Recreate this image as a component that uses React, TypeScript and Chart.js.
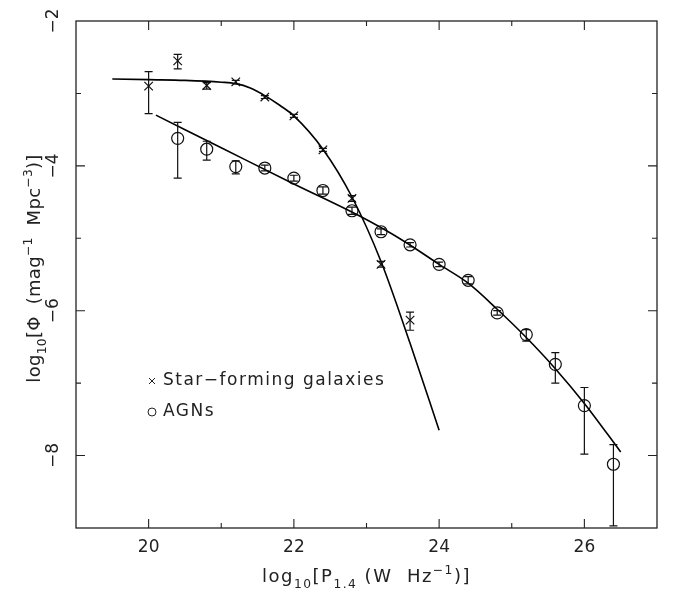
import React, { useEffect, useRef } from "react";
import { Chart, registerables } from "chart.js";

Chart.register(...registerables);

// Star-forming galaxies (crosses)
const sfX = [20.0, 20.4, 20.8, 21.2, 21.6, 22.0, 22.4, 22.8, 23.2, 23.6];
const sfY = [-2.9, -2.55, -2.89, -2.84, -3.05, -3.31, -3.78, -4.45, -5.36, -6.13];
const sfHi = [-2.7, -2.46, -2.85, -2.82, -3.03, -3.29, -3.76, -4.41, -5.32, -6.02];
const sfLo = [-3.28, -2.66, -2.94, -2.87, -3.07, -3.33, -3.8, -4.49, -5.4, -6.27];

// AGNs (circles)
const agnX = [20.4, 20.8, 21.2, 21.6, 22.0, 22.4, 22.8, 23.2, 23.6, 24.0, 24.4, 24.8, 25.2, 25.6, 26.0, 26.4];
const agnY = [-3.62, -3.77, -4.01, -4.03, -4.17, -4.34, -4.62, -4.91, -5.09, -5.36, -5.58, -6.03, -6.33, -6.74, -7.31, -8.12];
const agnHi = [-3.4, -3.66, -3.93, -3.99, -4.13, -4.29, -4.57, -4.87, -5.06, -5.33, -5.53, -6.0, -6.26, -6.58, -7.06, -7.85];
const agnLo = [-4.17, -3.92, -4.11, -4.07, -4.21, -4.39, -4.67, -4.95, -5.12, -5.39, -5.63, -6.06, -6.42, -7.0, -7.98, -8.97];

// Fitted curves
const sfFitX = [19.5, 20.0, 20.5, 21.0, 21.2, 21.4, 21.6, 21.8, 22.0, 22.4, 22.8, 23.2, 23.6, 24.0];
const sfFitY = [-2.8, -2.81, -2.82, -2.845, -2.865, -2.925, -3.03, -3.16, -3.31, -3.77, -4.43, -5.32, -6.45, -7.65];
const agnFitX = [20.1, 21.0, 22.0, 22.9, 23.5, 24.0, 24.4, 24.8, 25.2, 25.6, 26.0, 26.5];
const agnFitY = [-3.3, -3.75, -4.25, -4.69, -5.03, -5.36, -5.62, -5.98, -6.37, -6.8, -7.28, -7.95];

// Axes
const xMin = 19, xMax = 27;
const yMin = -9, yMax = -2;
const xTickLabels = [20, 22, 24, 26];
const yTickLabels = [-2, -4, -6, -8];
const legendLabels = ["Star\u2212forming galaxies", "AGNs"];

const FONT = '"DejaVu Sans", sans-serif';
const TEXT = "#222";

type Seg = { t: string; k?: "sub" | "sup" };

function drawRich(ctx: CanvasRenderingContext2D, segs: Seg[], cx: number, by: number, size: number, spacing: number) {
  (ctx as any).letterSpacing = `${spacing}px`;
  const parts = segs.map((s) => {
    const sz = s.k ? size * 0.68 : size;
    ctx.font = `${sz}px ${FONT}`;
    return { ...s, sz, w: ctx.measureText(s.t).width };
  });
  const total = parts.reduce((a, p) => a + p.w, 0);
  let x = cx - total / 2;
  ctx.textAlign = "left";
  ctx.textBaseline = "alphabetic";
  for (const p of parts) {
    ctx.font = `${p.sz}px ${FONT}`;
    const dy = p.k === "sub" ? size * 0.32 : p.k === "sup" ? -size * 0.45 : 0;
    ctx.fillText(p.t, x, by + dy);
    x += p.w;
  }
  (ctx as any).letterSpacing = "0px";
}

const framePlugin = {
  id: "framePlugin",
  afterDatasetsDraw(chart: any) {
    const ctx: CanvasRenderingContext2D = chart.ctx;
    const { left, right, top, bottom } = chart.chartArea;
    const xs = chart.scales.x;
    const ys = chart.scales.y;
    ctx.save();

    // error bars
    ctx.strokeStyle = "#111";
    ctx.lineWidth = 1.2;
    const cap = 4;
    const bars = (X: number[], H: number[], L: number[]) => {
      X.forEach((xv, i) => {
        const px = xs.getPixelForValue(xv);
        const ph = ys.getPixelForValue(H[i]);
        const pl = ys.getPixelForValue(L[i]);
        ctx.beginPath();
        ctx.moveTo(px, ph);
        ctx.lineTo(px, pl);
        ctx.moveTo(px - cap, ph);
        ctx.lineTo(px + cap, ph);
        ctx.moveTo(px - cap, pl);
        ctx.lineTo(px + cap, pl);
        ctx.stroke();
      });
    };
    bars(sfX, sfHi, sfLo);
    bars(agnX, agnHi, agnLo);

    // frame
    ctx.strokeStyle = "#222";
    ctx.lineWidth = 1.3;
    ctx.strokeRect(left, top, right - left, bottom - top);

    // ticks
    ctx.lineWidth = 1.1;
    ctx.beginPath();
    for (let v = xMin + 1; v < xMax; v++) {
      const len = v % 2 === 0 ? 9 : 5;
      const px = xs.getPixelForValue(v);
      ctx.moveTo(px, bottom);
      ctx.lineTo(px, bottom - len);
      ctx.moveTo(px, top);
      ctx.lineTo(px, top + len);
    }
    for (let v = yMin + 1; v < yMax; v++) {
      const len = Math.abs(v) % 2 === 0 ? 9 : 5;
      const py = ys.getPixelForValue(v);
      ctx.moveTo(left, py);
      ctx.lineTo(left + len, py);
      ctx.moveTo(right, py);
      ctx.lineTo(right - len, py);
    }
    ctx.stroke();

    // tick labels
    ctx.fillStyle = TEXT;
    ctx.font = `17px ${FONT}`;
    ctx.textAlign = "center";
    ctx.textBaseline = "top";
    xTickLabels.forEach((v) => {
      ctx.fillText(String(v), xs.getPixelForValue(v), bottom + 11);
    });
    yTickLabels.forEach((v) => {
      const py = ys.getPixelForValue(v);
      ctx.save();
      ctx.translate(left - 18, py);
      ctx.rotate(-Math.PI / 2);
      ctx.textAlign = "center";
      ctx.textBaseline = "alphabetic";
      ctx.fillText(String(v).replace("-", "\u2212"), 0, 0);
      ctx.restore();
    });

    // axis titles
    drawRich(
      ctx,
      [
        { t: "log" },
        { t: "10", k: "sub" },
        { t: "[P" },
        { t: "1.4", k: "sub" },
        { t: " (W  Hz" },
        { t: "\u22121", k: "sup" },
        { t: ")]" },
      ],
      (left + right) / 2,
      582,
      18,
      1.5
    );
    ctx.save();
    ctx.translate(40, (top + bottom) / 2 - 6);
    ctx.rotate(-Math.PI / 2);
    drawRich(
      ctx,
      [
        { t: "log" },
        { t: "10", k: "sub" },
        { t: "[\u03A6  (mag" },
        { t: "\u22121", k: "sup" },
        { t: "  Mpc" },
        { t: "\u22123", k: "sup" },
        { t: ")]" },
      ],
      0,
      0,
      18,
      0.3
    );
    ctx.restore();

    // legend
    ctx.strokeStyle = "#222";
    ctx.lineWidth = 1;
    const lx = 152;
    const ly1 = 381;
    const ly2 = 412;
    ctx.beginPath();
    ctx.moveTo(lx - 3, ly1 - 3);
    ctx.lineTo(lx + 3, ly1 + 3);
    ctx.moveTo(lx + 3, ly1 - 3);
    ctx.lineTo(lx - 3, ly1 + 3);
    ctx.stroke();
    ctx.beginPath();
    ctx.arc(lx, ly2, 4, 0, Math.PI * 2);
    ctx.stroke();
    ctx.font = `17px ${FONT}`;
    ctx.textAlign = "left";
    ctx.textBaseline = "middle";
    (ctx as any).letterSpacing = "1.5px";
    ctx.fillText(legendLabels[0], lx + 11, ly1);
    ctx.fillText(legendLabels[1], lx + 11, ly2);
    (ctx as any).letterSpacing = "0px";

    ctx.restore();
  },
};

export default function App() {
  const ref = useRef<HTMLCanvasElement | null>(null);
  useEffect(() => {
    if (!ref.current) return;
    const chart = new Chart(ref.current, {
      type: "scatter",
      data: {
        datasets: [
          {
            type: "line",
            data: sfFitX.map((x, i) => ({ x, y: sfFitY[i] })),
            borderColor: "#000",
            borderWidth: 1.6,
            pointRadius: 0,
            showLine: true,
            cubicInterpolationMode: "monotone",
            fill: false,
          },
          {
            type: "line",
            data: agnFitX.map((x, i) => ({ x, y: agnFitY[i] })),
            borderColor: "#000",
            borderWidth: 1.6,
            pointRadius: 0,
            showLine: true,
            cubicInterpolationMode: "monotone",
            fill: false,
          },
          {
            data: sfX.map((x, i) => ({ x, y: sfY[i] })),
            pointStyle: "crossRot",
            pointRadius: 6,
            borderColor: "#111",
            borderWidth: 1.2,
            backgroundColor: "transparent",
          },
          {
            data: agnX.map((x, i) => ({ x, y: agnY[i] })),
            pointStyle: "circle",
            pointRadius: 6,
            borderColor: "#111",
            borderWidth: 1.2,
            backgroundColor: "transparent",
          },
        ] as any,
      },
      options: {
        animation: false,
        responsive: false,
        events: [],
        layout: { padding: { left: 76, right: 17, top: 21, bottom: 71 } },
        plugins: { legend: { display: false }, tooltip: { enabled: false } },
        scales: {
          x: { type: "linear", min: xMin, max: xMax, display: false },
          y: { type: "linear", min: yMin, max: yMax, display: false },
        },
      },
      plugins: [framePlugin],
    });
    return () => chart.destroy();
  }, []);
  return (
    <div style={{ position: "absolute", left: 0, top: 0, width: 674, height: 599, background: "#fff" }}>
      <canvas ref={ref} width={674} height={599} />
    </div>
  );
}
